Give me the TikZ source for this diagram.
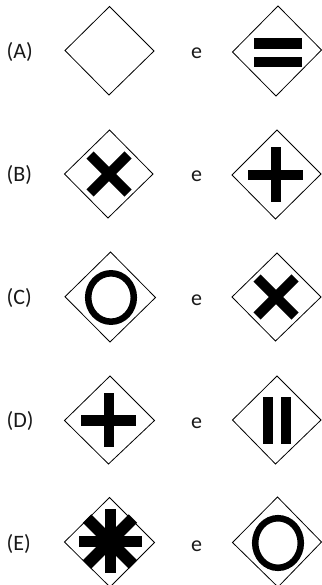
\documentclass[tikz,border=0pt]{standalone}
\usepackage{fontspec}
\setmainfont{Carlito}
\tikzset{
  every node/.style={font=\fontsize{22}{26}\selectfont,text=black!90,inner sep=0pt},
  gate/.style={draw=black,line width=0.8pt,fill=white,line join=miter},
  bar/.style={fill=black,draw=none},
  thick arm/.style={draw=black,line width=#1,line cap=butt},
  ring/.style={draw=black,line width=6.5pt,fill=white}
}
\newcommand{\gatepoly}[4]{\draw[gate] #1 -- #2 -- #3 -- #4 -- cycle;}
\begin{document}
\begin{tikzpicture}[x=1pt,y=-1pt]
\useasboundingbox[fill=white] (0,0) rectangle (321,585);
% labels
\node[anchor=west] (la) at (6.5,52) {(A)};
\node[anchor=west] (lb) at (6.5,175) {(B)};
\node[anchor=west] (lc) at (6.5,298) {(C)};
\node[anchor=west] (ld) at (6.5,421) {(D)};
\node[anchor=west] (le) at (6.5,544) {(E)};
\node[anchor=base] (ea) at (196.5,59) {e};
\node[anchor=base] (eb) at (196.5,182) {e};
\node[anchor=base] (ec) at (196.5,305) {e};
\node[anchor=base] (ed) at (196.5,428) {e};
\node[anchor=base] (ee) at (196.5,551) {e};
% A
\gatepoly{(65,50.5)}{(109.5,6.5)}{(154,51)}{(109,95)}
\gatepoly{(232.5,52)}{(278,6)}{(321.5,50)}{(276,96)}
\fill[bar] (253.5,38.5) rectangle (302,49);
\fill[bar] (253.5,57) rectangle (302,67);
% B
\gatepoly{(64.5,174)}{(109.5,130)}{(153,174)}{(108,218)}
\draw[thick arm=10pt] (90,155) -- (128,193);
\draw[thick arm=10pt] (128,155) -- (90,193);
\gatepoly{(232,175)}{(277,130)}{(321,174)}{(275.5,219)}
\fill[bar] (248,170) rectangle (303,180.5);
\fill[bar] (270.5,147) rectangle (281,202);
% C
\gatepoly{(65,296.7)}{(110.5,252)}{(155.5,297.5)}{(110,342)}
\draw[ring] (111,297.5) ellipse [x radius=22.8,y radius=24.2];
\gatepoly{(232,297)}{(277,253)}{(321,297)}{(275.5,341)}
\draw[thick arm=10pt] (257,278) -- (295,316);
\draw[thick arm=10pt] (295,278) -- (257,316);
% D
\gatepoly{(64.5,420.5)}{(110,376)}{(154.5,420.5)}{(108.5,464)}
\fill[bar] (81,415) rectangle (136,425.5);
\fill[bar] (103.5,393) rectangle (114,447);
\gatepoly{(232.5,420)}{(277,376)}{(321,420)}{(275.5,464)}
\fill[bar] (263,396.5) rectangle (273,443.5);
\fill[bar] (281,396.5) rectangle (291,443.5);
% E
\gatepoly{(64.5,542)}{(109.5,497.5)}{(154.5,542.5)}{(110,587)}
\fill[bar] (78.5,536) rectangle (142,547);
\fill[bar] (104.5,509) rectangle (116,573);
\draw[thick arm=12pt] (87,518.5) -- (133,564.5);
\draw[thick arm=12pt] (133,518.5) -- (87,564.5);
\gatepoly{(232.5,542.5)}{(277.5,497)}{(321.5,542)}{(278,587)}
\draw[ring] (278,543) ellipse [x radius=22.8,y radius=24.8];
\end{tikzpicture}
\end{document}
